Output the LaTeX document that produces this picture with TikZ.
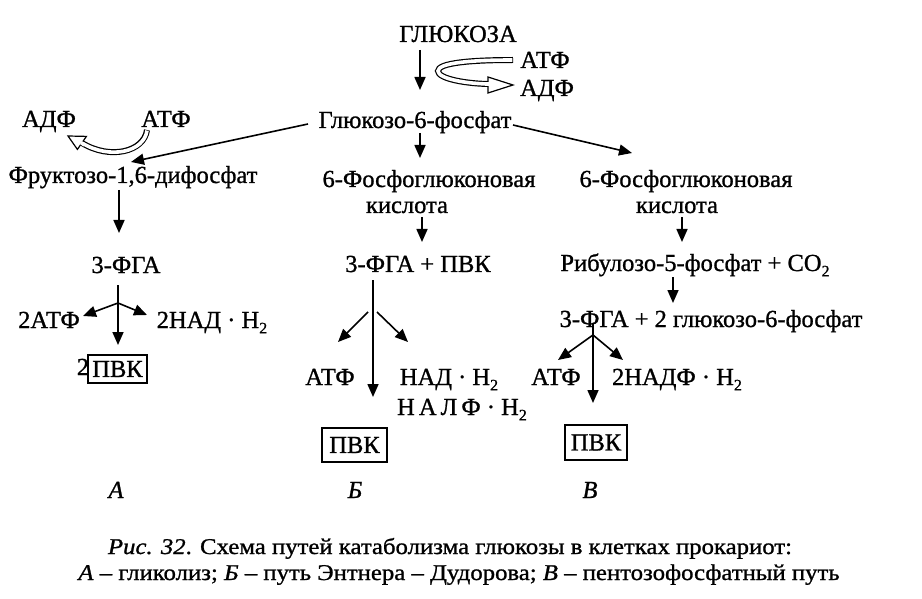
\documentclass[tikz,border=0pt]{standalone}
\usepackage{fontspec}
\setmainfont{Liberation Serif}[FakeBold=1]
\usetikzlibrary{arrows.meta}
\newcommand\mysub[1]{\raisebox{-0.22em}{\fontsize{16}{16}\selectfont #1}}
\begin{document}
\begin{tikzpicture}[x=1pt,y=-1pt,
  txt/.style={inner sep=0pt, anchor=base, font=\fontsize{24.5}{28}\selectfont},
  captxt/.style={inner sep=0pt, anchor=base, font=\fontsize{22.5}{26}\selectfont},
  arr/.style={line width=1.6pt, -{Triangle[length=13pt,width=11pt]}},
  pvk/.style={draw, line width=1.3pt, inner sep=0pt, font=\fontsize{24.5}{28}\selectfont},
  hout/.style={line width=6pt, black},
  hin/.style={line width=3.6pt, white},
  hhead/.style={line width=1.2pt, fill=white, line join=miter}
]
\useasboundingbox[fill=white] (0,0) rectangle (922,599);

% texts
\node[txt] (glu) at (458,42) {ГЛЮКОЗА};
\node[txt] (atp1) at (545,68) {АТФ};
\node[txt] (adp1) at (547,96) {АДФ};
\node[txt] (g6p) at (415,128) {Глюкозо-6-фосфат};
\node[txt] (adp2) at (49,127) {АДФ};
\node[txt] (atp2) at (166,127) {АТФ};
\node[txt] (f16) at (133,183) {Фруктозо-1,6-дифосфат};
\node[txt] (fgaA) at (126,273) {3-ФГА};
\node[txt] (atpA) at (49,328) {2АТФ};
\node[txt] (nadA) at (212,328) {2НАД · H\mysub{2}};
\node[txt] (twoA) at (83,375) {2};
\node[pvk, minimum width=59pt, minimum height=28pt] (boxA) at (117.5,369) {ПВК};

\node[txt] (pgkB) at (429,187) {6-Фосфоглюконовая};
\node[txt] (kisB) at (407,213) {кислота};
\node[txt] (fgaB) at (418,272) {3-ФГА + ПВК};
\node[txt] (atpB) at (330,385) {АТФ};
\node[txt] (nadB) at (449,385) {НАД · H\mysub{2}};
\node[txt] (nalfB) at (462,415) {Н\,А\,Л\,Ф · H\mysub{2}};
\node[pvk, minimum width=65pt, minimum height=34pt] (boxB) at (354.5,445) {ПВК};

\node[txt] (pgkC) at (686,187) {6-Фосфоглюконовая};
\node[txt] (kisC) at (677,213) {кислота};
\node[txt] (ribC) at (695,271) {Рибулозо-5-фосфат + CO\mysub{2}};
\node[txt] (fgaC) at (711,327) {3-ФГА + 2 глюкозо-6-фосфат};
\node[txt] (atpC) at (556,385) {АТФ};
\node[txt] (nadC) at (677,385) {2НАДФ · H\mysub{2}};
\node[pvk, minimum width=62pt, minimum height=35pt] (boxC) at (596,442.5) {ПВК};

\node[txt, font=\fontsize{24.5}{28}\selectfont\itshape] (labA) at (116,498) {А};
\node[txt, font=\fontsize{24.5}{28}\selectfont\itshape] (labB) at (355,498) {Б};
\node[txt, font=\fontsize{24.5}{28}\selectfont\itshape] (labC) at (590,498) {В};

\node[captxt] (cap1) at (450,554) {\scalebox{1.1}[1]{\textit{Рис. 32}. Схема путей катаболизма глюкозы в клетках прокариот:}};
\node[captxt] (cap2) at (459,580) {\scalebox{1.1}[1]{\textit{А} – гликолиз; \textit{Б} – путь Энтнера – Дудорова; \textit{В} – пентозофосфатный путь}};

% arrows
\draw[arr] (420,50) -- (420,90);
\draw[arr] (420,133) -- (420,158);
\draw[arr] (513,125) -- (632,153);
\draw[arr] (308,124) -- (131,162);
\draw[arr] (119,190) -- (119,233);
% A
\coordinate (brA) at (118,303);
\draw[arr] (118,285) -- (118,345);
\draw[arr] (brA) -- (83,316);
\draw[arr] (brA) -- (147,315);
% B
\draw[arr] (422,217) -- (422,242);
\draw[arr] (373,280) -- (373,397);
\draw[arr] (368,312) -- (338,342);
\draw[arr] (377,312) -- (408,342);
% C
\draw[arr] (682,217) -- (682,242);
\draw[arr] (673,277) -- (673,303);
\coordinate (brC) at (593,335);
\draw[arr] (593,323) -- (593,403);
\draw[arr] (brC) -- (558,360);
\draw[arr] (brC) -- (623,360);

% hollow arrow top
\draw[hout] (513,60) .. controls (470,60) and (438,63) .. (438,71) .. controls (438,79) and (468,84) .. (491,84);
\draw[hin] (512.4,60) .. controls (470,60) and (438,63) .. (438,71) .. controls (438,79) and (468,84) .. (491,84);
\draw[hhead] (488,77) -- (513,85) -- (488,93) -- cycle;
\draw[hin] (485,84) -- (489.6,84);

% hollow arrow left
\draw[hout] (147,130) .. controls (144,152) and (110,160) .. (82,143);
\draw[hin] (147,130.6) .. controls (144,152) and (110,160) .. (82,143);
\draw[hhead] (86.4,136.4) -- (68,136) -- (77.4,149.4) -- cycle;
\draw[hin] (84.5,145) -- (81,142.6);
\end{tikzpicture}
\end{document}
